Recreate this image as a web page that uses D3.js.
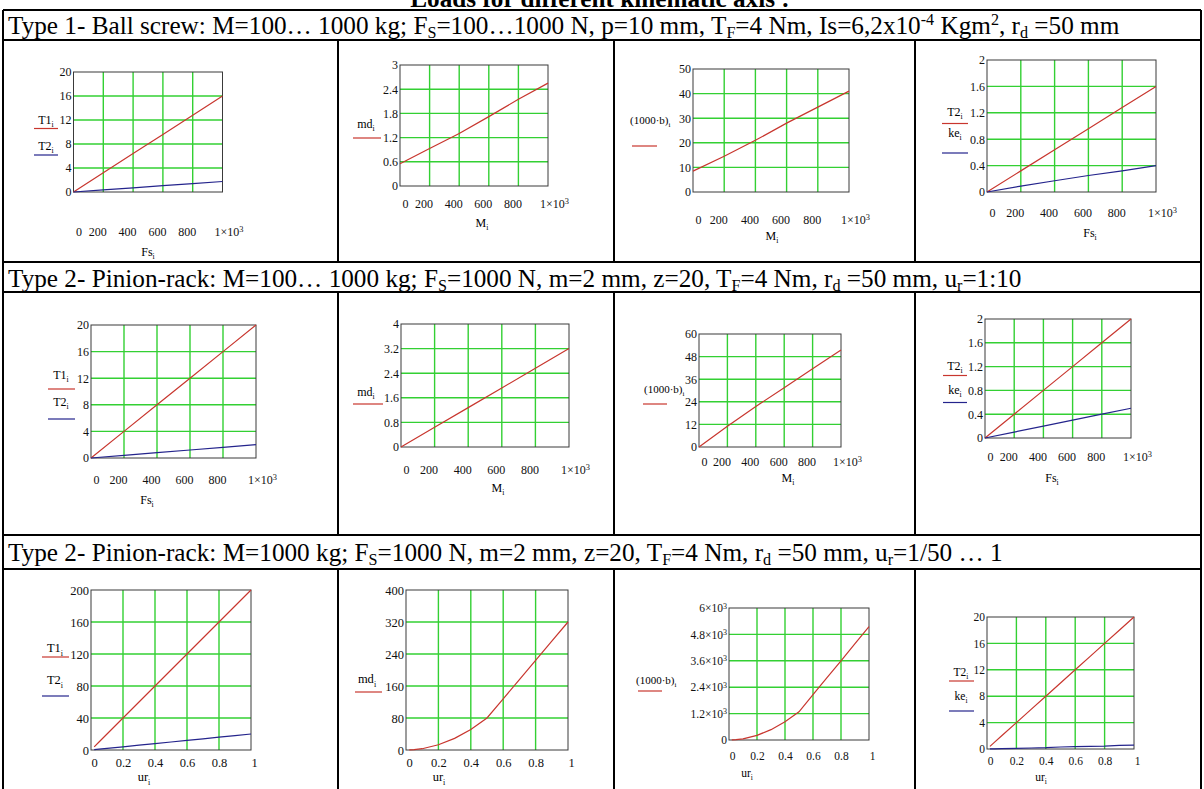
<!DOCTYPE html>
<html>
<head>
<meta charset="utf-8">
<script src="https://cdn.jsdelivr.net/npm/d3@7"></script>
<style>
body { margin: 0; background: #fff; }
svg { display: block; font-family: 'Liberation Serif', 'Times New Roman', serif; }
text { white-space: pre; }
</style>
</head>
<body>
<script>
// ---- data ----

// x values
var forceFs = [0, 200, 400, 600, 800, 1000];
var mass = [0, 200, 400, 600, 800, 1000];
var ur = [0.02, 0.05, 0.1, 0.2, 0.3, 0.4, 0.5, 0.6, 0.7, 0.8, 0.9, 1];

// Type 1 - ball screw
var t1Row1 = [0, 3.2, 6.4, 9.6, 12.8, 16];
var t2Row1 = [0, 0.35, 0.7, 1.05, 1.4, 1.75];
var mdRow1 = [0.55, 0.93, 1.3, 1.72, 2.15, 2.55];
var bRow1 = [8.5, 14.5, 21, 28, 34.5, 41];
var t2bRow1 = [0, 0.32, 0.64, 0.96, 1.28, 1.6];
var keRow1 = [0, 0.09, 0.17, 0.25, 0.32, 0.4];

// Type 2 - pinion-rack, M varies
var t1Row2 = [0, 4, 8, 12, 16, 20];
var t2Row2 = [0, 0.4, 0.8, 1.2, 1.6, 2];
var mdRow2 = [0, 0.64, 1.28, 1.92, 2.56, 3.2];
var bRow2 = [0, 11, 21.5, 31.5, 41.5, 51.5];
var t2bRow2 = [0, 0.4, 0.8, 1.2, 1.6, 2];
var keRow2 = [0, 0.1, 0.2, 0.3, 0.4, 0.5];

// Type 2 - pinion-rack, ur varies
var t1Row3 = [4, 10, 20, 40, 60, 80, 100, 120, 140, 160, 180, 200];
var t2Row3 = [0.4, 1, 2, 4, 6, 8, 10, 12, 14, 16, 18, 20];
var mdRow3 = [0.1, 0.8, 3.2, 13, 29, 51, 80, 128, 176, 224, 272, 320];
var bRow3 = [2, 13, 51, 210, 470, 830, 1280, 2060, 2830, 3600, 4380, 5150];
var t2bRow3 = [0.4, 1, 2, 4, 6, 8, 10, 12, 14, 16, 18, 20];
var keRow3 = [0.01, 0.02, 0.05, 0.1, 0.15, 0.2, 0.3, 0.35, 0.4, 0.45, 0.55, 0.6];

// ticks and tick labels
var ticksK = [0, 200, 400, 600, 800, 1000];
var labelsK = ['0', '200', '400', '600', '800', '1×10^3'];
var ticksU = [0, 0.2, 0.4, 0.6, 0.8, 1];
var labelsU = ['0', '0.2', '0.4', '0.6', '0.8', '1'];
var yT20 = [0, 4, 8, 12, 16, 20];
var yT3 = [0, 0.6, 1.2, 1.8, 2.4, 3];
var yT50 = [0, 10, 20, 30, 40, 50];
var yT2 = [0, 0.4, 0.8, 1.2, 1.6, 2];
var yT4 = [0, 0.8, 1.6, 2.4, 3.2, 4];
var yT60 = [0, 12, 24, 36, 48, 60];
var yT200 = [0, 40, 80, 120, 160, 200];
var yT400 = [0, 80, 160, 240, 320, 400];
var yT6k = [0, 1200, 2400, 3600, 4800, 6000];
var yL6k = ['0', '1.2×10^3', '2.4×10^3', '3.6×10^3', '4.8×10^3', '6×10^3'];

// table text
var heading = 'Loads for different kinematic axis :';
var caption1 = [['Type 1- Ball screw: M=100… 1000 kg; F'], ['S', 'sub'], ['=100…1000 N, p=10 mm, T'], ['F', 'sub'],
	['=4 Nm, Is=6,2x10'], ['-4', 'sup'], [' Kgm'], ['2', 'sup'], [', r'], ['d', 'sub'], [' =50 mm']];
var caption2 = [['Type 2- Pinion-rack: M=100… 1000 kg; F'], ['S', 'sub'], ['=1000 N, m=2 mm, z=20, T'], ['F', 'sub'],
	['=4 Nm, r'], ['d', 'sub'], [' =50 mm, u'], ['r', 'sub'], ['=1:10']];
var caption3 = [['Type 2- Pinion-rack: M=1000 kg; F'], ['S', 'sub'], ['=1000 N, m=2 mm, z=20, T'], ['F', 'sub'],
	['=4 Nm, r'], ['d', 'sub'], [' =50 mm, u'], ['r', 'sub'], ['=1/50 … 1']];

var red = '#c8362e', blue = '#24248c', green = '#33d033';
var serif = "'Liberation Serif', 'Times New Roman', serif";

var width = 1204, height = 789;
var svg = d3.select('body').append('svg')
	.attr('width', width)
	.attr('height', height);

// text with sub/superscript pieces
function richText(parent, x, y, segs, fs, subShift) {
	var t = parent.append('text').attr('x', x).attr('y', y).attr('font-size', fs);
	var shift = 0, sub = subShift || 0.22;
	segs.forEach(function (s) {
		var target = s[1] === 'sub' ? sub * fs : (s[1] === 'sup' ? -0.36 * fs : 0);
		t.append('tspan')
			.attr('dy', target - shift)
			.attr('font-size', s[1] ? 0.64 * fs : fs)
			.text(s[0]);
		shift = target;
	});
	return t;
}

// fit caption font so that caption 2 spans like in the picture
var probe = richText(svg, 0, -50, caption2, 20, 0.14);
var capSize = 20 * 1014 / probe.node().getComputedTextLength();
probe.remove();

// ---- table ----
var table = svg.append('g');
richText(table, 600, 7, [[heading]], capSize)
	.attr('text-anchor', 'middle')
	.attr('font-weight', 'bold');

var rowLines = [10, 40, 262, 292, 535, 569];
var plotRows = [[40, 262], [292, 535], [569, 800]];
var colLines = [338, 614, 915];

table.selectAll('line.row')
	.data(rowLines)
	.enter()
	.append('line')
	.attr('x1', 3).attr('x2', 1201)
	.attr('y1', function (d) { return d; })
	.attr('y2', function (d) { return d; })
	.style('stroke', '#000')
	.style('stroke-width', 2);

plotRows.forEach(function (r) {
	table.selectAll(null)
		.data(colLines)
		.enter()
		.append('line')
		.attr('x1', function (d) { return d; })
		.attr('x2', function (d) { return d; })
		.attr('y1', r[0]).attr('y2', r[1])
		.style('stroke', '#000')
		.style('stroke-width', 2);
});

[3, 1201].forEach(function (x) {
	table.append('line')
		.attr('x1', x).attr('x2', x)
		.attr('y1', 10).attr('y2', height)
		.style('stroke', '#000')
		.style('stroke-width', 2);
});

richText(table, 8, 34, caption1, capSize, 0.14);
richText(table, 8, 287, caption2, capSize, 0.14);
richText(table, 8, 561, caption3, capSize, 0.14);

// ---- plots ----
var panels = [
	{ xs: forceFs, xd: [0, 1000], xt: ticksK, xl: labelsK, yd: [0, 20], yt: yT20,
		series: [t1Row1, t2Row1], colors: [red, blue], names: ['T1', 'T2'], xTitle: 'Fs',
		box: [73.5, 222.5, 72, 192], labY: 232, titleAt: [148, 256], fs: 12,
		leg: [{ tx: 46, ty: 124, ly: 128.5, x0: 34, x1: 58 }, { tx: 46, ty: 150, ly: 155, x0: 34, x1: 58 }] },
	{ xs: mass, xd: [0, 1000], xt: ticksK, xl: labelsK, yd: [0, 3], yt: yT3,
		series: [mdRow1], colors: [red], names: ['md'], xTitle: 'M',
		box: [400, 548, 65, 186], labY: 204, titleAt: [482, 227], fs: 12,
		leg: [{ tx: 366, ty: 128, ly: 138, x0: 353, x1: 381 }] },
	{ xs: mass, xd: [0, 1000], xt: ticksK, xl: labelsK, yd: [0, 50], yt: yT50,
		series: [bRow1], colors: [red], names: ['(1000·b)'], xTitle: 'M',
		box: [693, 849, 69, 192], labY: 220, titleAt: [772, 240], fs: 12,
		leg: [{ tx: 630, ty: 124, ly: 146, x0: 632, x1: 657, start: true, fs: 11 }] },
	{ xs: forceFs, xd: [0, 1000], xt: ticksK, xl: labelsK, yd: [0, 2], yt: yT2,
		series: [t2bRow1, keRow1], colors: [red, blue], names: ['T2', 'ke'], xTitle: 'Fs',
		box: [987, 1156, 60, 192], labY: 213, titleAt: [1090, 237], fs: 12,
		leg: [{ tx: 955, ty: 116, ly: 123.5, x0: 942, x1: 968 }, { tx: 955, ty: 137, ly: 153, x0: 942, x1: 968 }] },

	{ xs: forceFs, xd: [0, 1000], xt: ticksK, xl: labelsK, yd: [0, 20], yt: yT20,
		series: [t1Row2, t2Row2], colors: [red, blue], names: ['T1', 'T2'], xTitle: 'Fs',
		box: [91, 256, 325, 458], labY: 480, titleAt: [147, 504], fs: 12,
		leg: [{ tx: 61, ty: 379, ly: 389, x0: 48, x1: 75 }, { tx: 61, ty: 406, ly: 419, x0: 48, x1: 75 }] },
	{ xs: mass, xd: [0, 1000], xt: ticksK, xl: labelsK, yd: [0, 4], yt: yT4,
		series: [mdRow2], colors: [red], names: ['md'], xTitle: 'M',
		box: [401, 569, 324, 447], labY: 470, titleAt: [498, 492], fs: 12,
		leg: [{ tx: 366, ty: 396, ly: 404, x0: 353, x1: 383 }] },
	{ xs: mass, xd: [0, 1000], xt: ticksK, xl: labelsK, yd: [0, 60], yt: yT60,
		series: [bRow2], colors: [red], names: ['(1000·b)'], xTitle: 'M',
		box: [699, 841, 334, 447], labY: 462, titleAt: [788, 482], fs: 12,
		leg: [{ tx: 644, ty: 393, ly: 404, x0: 643, x1: 667, start: true, fs: 11 }] },
	{ xs: forceFs, xd: [0, 1000], xt: ticksK, xl: labelsK, yd: [0, 2], yt: yT2,
		series: [t2bRow2, keRow2], colors: [red, blue], names: ['T2', 'ke'], xTitle: 'Fs',
		box: [985, 1131, 319, 438], labY: 457, titleAt: [1052, 482], fs: 12,
		leg: [{ tx: 955, ty: 370, ly: 375.5, x0: 943, x1: 967 }, { tx: 955, ty: 394, ly: 402.5, x0: 943, x1: 967 }] },

	{ xs: ur, xd: [0, 1], xt: ticksU, xl: labelsU, yd: [0, 200], yt: yT200,
		series: [t1Row3, t2Row3], colors: [red, blue], names: ['T1', 'T2'], xTitle: 'ur',
		box: [91, 251, 590, 750], labY: 763, titleAt: [144, 781], fs: 12.5,
		leg: [{ tx: 55, ty: 652, ly: 657, x0: 42, x1: 69 }, { tx: 55, ty: 684, ly: 696, x0: 42, x1: 69 }] },
	{ xs: ur, xd: [0, 1], xt: ticksU, xl: labelsU, yd: [0, 400], yt: yT400,
		series: [mdRow3], colors: [red], names: ['md'], xTitle: 'ur',
		box: [406, 568, 590, 750], labY: 763, titleAt: [439, 781], fs: 12.5,
		leg: [{ tx: 367, ty: 683, ly: 692, x0: 355, x1: 382 }] },
	{ xs: ur, xd: [0, 1], xt: ticksU, xl: labelsU, yd: [0, 6000], yt: yT6k, yl: yL6k,
		series: [bRow3], colors: [red], names: ['(1000·b)'], xTitle: 'ur',
		box: [729, 869, 608, 740], labY: 756, titleAt: [747, 777], fs: 11.5,
		leg: [{ tx: 636, ty: 684, ly: 691, x0: 638, x1: 662, start: true, fs: 11 }] },
	{ xs: ur, xd: [0, 1], xt: ticksU, xl: labelsU, yd: [0, 20], yt: yT20,
		series: [t2bRow3, keRow3], colors: [red, blue], names: ['T2', 'ke'], xTitle: 'ur',
		box: [987, 1134, 617, 749], labY: 761, titleAt: [1041, 781], fs: 11.5,
		leg: [{ tx: 961, ty: 676, ly: 681, x0: 949, x1: 974 }, { tx: 961, ty: 700, ly: 711, x0: 949, x1: 974 }] }
];

// turn "a^b" into a superscript tspan
function powLabels(sel) {
	sel.each(function () {
		var t = d3.select(this), s = t.text();
		if (s.indexOf('^') < 0) return;
		var parts = s.split('^');
		t.text(parts[0]);
		t.append('tspan').attr('dy', '-0.45em').attr('font-size', '0.7em').text(parts[1]);
	});
}

panels.forEach(function (p) {
	var xScale = d3.scaleLinear().domain(p.xd).range([p.box[0], p.box[1]]);
	var yScale = d3.scaleLinear().domain(p.yd).range([p.box[3], p.box[2]]);
	var g = svg.append('g');

	// green grid
	g.selectAll('line.gx')
		.data(p.xt.slice(1, -1))
		.enter()
		.append('line')
		.attr('x1', function (d) { return xScale(d); })
		.attr('x2', function (d) { return xScale(d); })
		.attr('y1', p.box[2]).attr('y2', p.box[3])
		.style('stroke', green)
		.style('stroke-width', 1.4);

	g.selectAll('line.gy')
		.data(p.yt.slice(1, -1))
		.enter()
		.append('line')
		.attr('x1', p.box[0]).attr('x2', p.box[1])
		.attr('y1', function (d) { return yScale(d); })
		.attr('y2', function (d) { return yScale(d); })
		.style('stroke', green)
		.style('stroke-width', 1.4);

	g.append('rect')
		.attr('x', p.box[0]).attr('y', p.box[2])
		.attr('width', p.box[1] - p.box[0])
		.attr('height', p.box[3] - p.box[2])
		.style('fill', 'none')
		.style('stroke', '#3a3a3a')
		.style('stroke-width', 1);

	// axes (labels only)
	var yl = p.yl || p.yt.map(String);
	var yAxis = d3.axisLeft(yScale)
		.tickValues(p.yt)
		.tickFormat(function (d, i) { return yl[i]; })
		.tickSize(0)
		.tickPadding(2);
	var ya = g.append('g')
		.attr('transform', 'translate(' + p.box[0] + ',0)')
		.call(yAxis);
	ya.select('.domain').remove();
	ya.attr('font-family', serif).attr('font-size', p.fs);
	ya.selectAll('text').style('fill', '#111').call(powLabels);

	var xAxis = d3.axisBottom(xScale)
		.tickValues(p.xt)
		.tickFormat(function (d, i) { return p.xl[i]; })
		.tickSize(0)
		.tickPadding(0);
	var xa = g.append('g')
		.attr('transform', 'translate(0,' + (p.labY - 0.38 * p.fs) + ')')
		.call(xAxis);
	xa.select('.domain').remove();
	xa.attr('font-family', serif).attr('font-size', p.fs);
	var last = p.xt.length - 1;
	xa.selectAll('text')
		.style('fill', '#111')
		.attr('dx', function (d, i) {
			if (p.xt === ticksK) return i === 0 ? 5 : (i === last ? 6 : -6);
			return (i === 0 || i === last) ? 3 : 0;
		})
		.call(powLabels);

	// traces
	p.series.forEach(function (vals, k) {
		var line = d3.line()
			.x(function (d, i) { return xScale(p.xs[i]); })
			.y(function (d) { return yScale(d); });
		g.append('path')
			.datum(vals)
			.attr('d', line)
			.style('fill', 'none')
			.style('stroke', p.colors[k])
			.style('stroke-width', 1.2);
	});

	// y-axis legend, Mathcad style
	p.leg.forEach(function (l, k) {
		richText(g, l.tx, l.ty, [[p.names[k]], ['i', 'sub']], l.fs || p.fs, 0.28)
			.attr('text-anchor', l.start ? 'start' : 'middle');
		g.append('line')
			.attr('x1', l.x0).attr('x2', l.x1)
			.attr('y1', l.ly).attr('y2', l.ly)
			.style('stroke', p.colors[k])
			.style('stroke-width', 1.2);
	});

	richText(g, p.titleAt[0], p.titleAt[1], [[p.xTitle], ['i', 'sub']], p.fs, 0.28)
		.attr('text-anchor', 'middle');
});
</script>
</body>
</html>
